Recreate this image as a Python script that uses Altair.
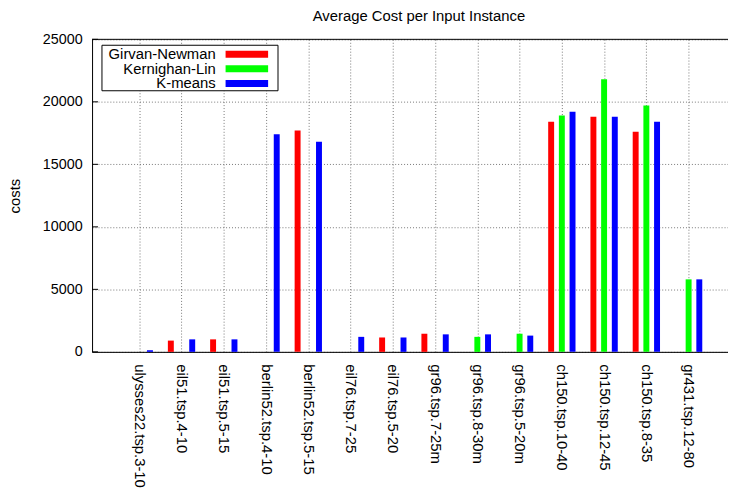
import json
import altair as alt
import pandas as pd

# ---- data ----
categories = [
    "ulysses22.tsp.3-10", "eil51.tsp.4-10", "eil51.tsp.5-15", "berlin52.tsp.4-10",
    "berlin52.tsp.5-15", "eil76.tsp.7-25", "eil76.tsp.5-20", "gr96.tsp.7-25m",
    "gr96.tsp.8-30m", "gr96.tsp.5-20m", "ch150.tsp.10-40", "ch150.tsp.12-45",
    "ch150.tsp.8-35", "gr431.tsp.12-80",
]
series = ["Girvan-Newman", "Kernighan-Lin", "K-means"]
colors = ["#ff0000", "#00ff00", "#0000ff"]
girvan_newman = [None, 900, 1000, None, 17700, None, 1150, 1450, None, None, 18400, 18800, 17600, None]
kernighan_lin = [None, None, None, None, None, None, None, None, 1200, 1450, 18900, 21800, 19700, 5800]
k_means = [130, 1000, 1000, 17400, 16800, 1200, 1150, 1400, 1400, 1300, 19200, 18800, 18400, 5800]
y_ticks = [0, 5000, 10000, 15000, 20000, 25000]

rows = []
for s_i, (name, vals) in enumerate(zip(series, [girvan_newman, kernighan_lin, k_means])):
    for c_i, v in enumerate(vals):
        if v is not None:
            rows.append({"idx": c_i, "series": name, "s": s_i, "cost": v})
df = pd.DataFrame(rows)

W, H = 643, 316
FONT = "Liberation Sans"
label_expr = json.dumps(categories) + "[datum.value]"

color_scale = alt.Scale(domain=series, range=colors)
x_scale = alt.Scale(domain=[-1, 13.815], nice=False, zero=False)
y_scale = alt.Scale(domain=[0, 25000], nice=False)

y_axis = alt.Axis(
    values=y_ticks, format="d", ticks=False, labelPadding=10,
    grid=True, gridDash=[1, 2], gridColor="#777777", gridWidth=1,
    domainColor="black", domainWidth=1,
    labelFont=FONT, labelFontSize=14.5, labelColor="black",
    title="costs", titleFont=FONT, titleFontSize=15, titleFontWeight="normal",
    titleColor="black", titleAngle=270, titleX=-78, titleY=H / 2,
    titleAlign="center", titleBaseline="middle")

bars = alt.Chart(df).transform_calculate(
    pos="datum.idx + (datum.s - 1) * 0.253"
).mark_bar(size=6).encode(
    x=alt.X("pos:Q", scale=x_scale, title=None, axis=alt.Axis(
        values=list(range(len(categories))), labelExpr=label_expr,
        labelAngle=90, labelAlign="left", labelBaseline="middle",
        labelPadding=12, labelOverlap=False, labelFlush=False, labelBound=False,
        ticks=False, grid=True, gridDash=[1, 2], gridColor="#777777", gridWidth=1,
        domainColor="black", domainWidth=1,
        labelFont=FONT, labelFontSize=15, labelColor="black")),
    y=alt.Y("cost:Q", scale=y_scale, axis=y_axis),
    color=alt.Color("series:N", scale=color_scale, legend=None),
)

one = pd.DataFrame({"a": [0]})

top_border = alt.Chart(one).mark_rule(color="black", strokeWidth=1).encode(
    x=alt.value(0), x2=alt.value(W), y=alt.value(0))

inner_ticks = alt.Chart(pd.DataFrame({"cost": y_ticks})).mark_rule(color="black", strokeWidth=1).encode(
    y=alt.Y("cost:Q", scale=y_scale, axis=y_axis), x=alt.value(0), x2=alt.value(6))

legend_layers = [
    alt.Chart(one).mark_rect(fill="white", stroke="black", strokeWidth=1).encode(
        x=alt.value(10), x2=alt.value(188), y=alt.value(6), y2=alt.value(52))
]
for i, (name, col) in enumerate(zip(series, colors)):
    yc = 15 + 14.8 * i
    legend_layers.append(
        alt.Chart(one).mark_rect(color=col).encode(
            x=alt.value(135), x2=alt.value(178), y=alt.value(yc - 3.5), y2=alt.value(yc + 3.5)))
    legend_layers.append(
        alt.Chart(one).mark_text(align="right", baseline="middle", font=FONT, fontSize=15,
                                 color="black").encode(
            x=alt.value(125), y=alt.value(yc), text=alt.value(name)))

chart = alt.layer(
    bars, inner_ticks, top_border, *legend_layers
).properties(
    width=W, height=H,
    title=alt.Title("Average Cost per Input Instance", font=FONT, fontSize=15,
                    fontWeight="normal", color="black", anchor="middle", frame="group",
                    dx=9, offset=8),
    autosize=alt.AutoSizeParams(type="none"),
    padding={"left": 85, "top": 29, "right": 0, "bottom": 137},
).configure_view(stroke=None).configure(background="white")

chart.save("out.html", embed_options={"renderer": "svg", "actions": False})
